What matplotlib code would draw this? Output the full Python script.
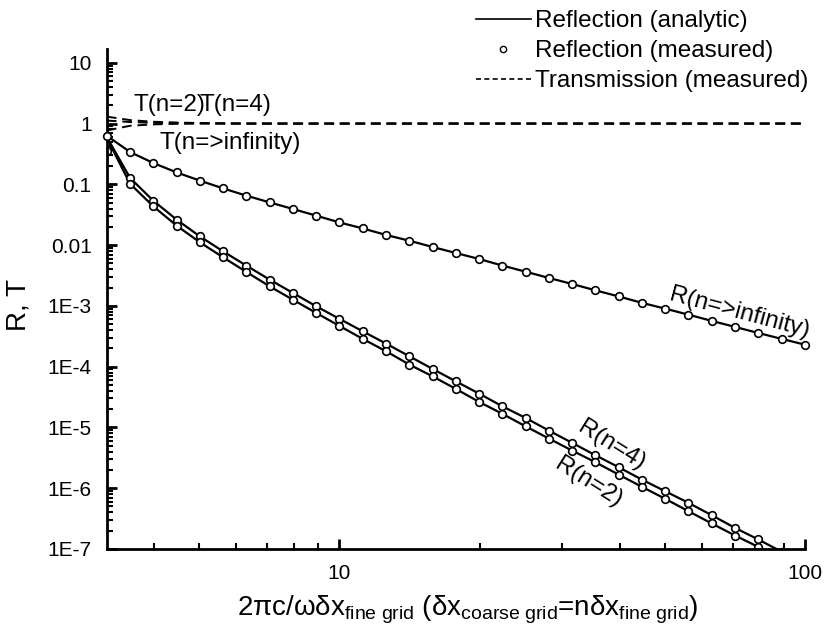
import numpy as np
import matplotlib
matplotlib.use('Agg')
import matplotlib.pyplot as plt
from matplotlib.lines import Line2D
from matplotlib.ticker import FixedLocator, FixedFormatter, LogLocator, NullFormatter

plt.rcParams['font.family'] = ['Liberation Sans', 'DejaVu Sans']
plt.rcParams['mathtext.fontset'] = 'custom'
plt.rcParams['mathtext.rm'] = 'Liberation Sans'
plt.rcParams['mathtext.it'] = 'Liberation Sans'
plt.rcParams['mathtext.bf'] = 'Liberation Sans:bold'

# points per wavelength on the fine grid
ppw = [3.162, 3.548, 3.981, 4.467, 5.012, 5.623, 6.310, 7.079, 7.943, 8.913,
       10.0, 11.22, 12.59, 14.13, 15.85, 17.78, 19.95, 22.39, 25.12, 28.18,
       31.62, 35.48, 39.81, 44.67, 50.12, 56.23, 63.10, 70.79, 79.43, 89.13, 100.0]

# reflection, n -> infinity
r_inf = [0.63, 0.34, 0.224, 0.157, 0.115, 0.0857, 0.0650, 0.0504, 0.0393, 0.0305,
         0.0236, 0.0188, 0.0147, 0.0118, 0.00931, 0.00741, 0.00591, 0.00460, 0.00365, 0.00288,
         0.00229, 0.00180, 0.00143, 0.00112, 0.000899, 0.000716, 0.000565, 0.000450, 0.000358,
         0.000286, 0.000230]

# reflection, n = 4
r4 = [0.38, 0.127, 0.0537, 0.0262, 0.0139, 0.00787, 0.00458, 0.00270, 0.00163, 0.000982,
      0.000611, 0.000381, 0.000239, 0.000148, 9.16e-5, 5.73e-5, 3.60e-5, 2.22e-5, 1.43e-5,
      8.86e-6, 5.56e-6, 3.48e-6, 2.21e-6, 1.38e-6, 8.89e-7, 5.73e-7, 3.58e-7, 2.22e-7,
      1.43e-7, 9.0e-8, 5.6e-8]

# reflection, n = 2
r2 = [0.35, 0.102, 0.0433, 0.0209, 0.0111, 0.00628, 0.00361, 0.00209, 0.00126, 0.000764,
      0.000467, 0.000286, 0.000179, 0.000108, 6.92e-5, 4.30e-5, 2.63e-5, 1.67e-5, 1.04e-5,
      6.55e-6, 4.15e-6, 2.67e-6, 1.67e-6, 1.05e-6, 6.67e-7, 4.17e-7, 2.62e-7, 1.66e-7,
      1.08e-7, 6.8e-8, 4.3e-8]

# analytic curves differ from the measured ones only at the coarsest point
r4_first_analytic = 0.60
r2_first_analytic = 0.58

# transmission
t2 = [1.30, 1.14, 1.07, 1.04, 1.02, 1.01, 1.0, 1.0, 1.0, 1.0, 1.0, 1.0, 1.0, 1.0, 1.0, 1.0,
      1.0, 1.0, 1.0, 1.0, 1.0, 1.0, 1.0, 1.0, 1.0, 1.0, 1.0, 1.0, 1.0, 1.0, 1.0]
t4 = [1.12, 1.06, 1.03, 1.015, 1.01, 1.0, 1.0, 1.0, 1.0, 1.0, 1.0, 1.0, 1.0, 1.0, 1.0, 1.0,
      1.0, 1.0, 1.0, 1.0, 1.0, 1.0, 1.0, 1.0, 1.0, 1.0, 1.0, 1.0, 1.0, 1.0, 1.0]
t_inf = [0.77, 0.92, 0.97, 0.99, 1.0, 1.0, 1.0, 1.0, 1.0, 1.0, 1.0, 1.0, 1.0, 1.0, 1.0, 1.0,
         1.0, 1.0, 1.0, 1.0, 1.0, 1.0, 1.0, 1.0, 1.0, 1.0, 1.0, 1.0, 1.0, 1.0, 1.0]

ytick_vals = [10, 1, 0.1, 0.01, 1e-3, 1e-4, 1e-5, 1e-6, 1e-7]
ytick_labels = ['10', '1', '0.1', '0.01', '1E-3', '1E-4', '1E-5', '1E-6', '1E-7']
xtick_vals = [10, 100]
xtick_labels = ['10', '100']

fig = plt.figure(figsize=(8.28, 6.42), dpi=100)
ax = fig.add_axes([0.129, 0.145, 0.843, 0.779])

ax.set_xscale('log')
ax.set_yscale('log')

# analytic reflection
ax.plot(ppw, r_inf, color='black', lw=1.6)
ax.plot(ppw, [r4_first_analytic] + r4[1:], color='black', lw=1.6)
ax.plot(ppw, [r2_first_analytic] + r2[1:], color='black', lw=1.6)

# measured reflection (the n->infinity curve stays inside the box, so no clipping)
ax.plot(ppw, r_inf, ls='none', marker='o', ms=5.5, mfc='white', mec='black', mew=1.2,
        clip_on=False, zorder=3)
for r in (r4, r2):
    ax.plot(ppw, r, ls='none', marker='o', ms=5.5, mfc='white', mec='black', mew=1.2)

# measured transmission
for t in (t2, t4, t_inf):
    ax.plot(ppw, t, color='black', lw=1.4, ls=(0, (5, 3)))

ax.set_xlim(3.162, 100)
ax.set_ylim(1e-7, 17)

ax.spines['top'].set_visible(False)
ax.spines['right'].set_visible(False)
ax.spines['left'].set_linewidth(2)
ax.spines['bottom'].set_linewidth(2)

ax.yaxis.set_major_locator(FixedLocator(ytick_vals))
ax.yaxis.set_major_formatter(FixedFormatter(ytick_labels))
ax.yaxis.set_minor_locator(LogLocator(base=10, subs=np.arange(2, 10), numticks=20))
ax.yaxis.set_minor_formatter(NullFormatter())
ax.xaxis.set_major_locator(FixedLocator(xtick_vals))
ax.xaxis.set_major_formatter(FixedFormatter(xtick_labels))
ax.xaxis.set_minor_locator(LogLocator(base=10, subs=np.arange(2, 10), numticks=20))
ax.xaxis.set_minor_formatter(NullFormatter())

ax.tick_params(which='major', direction='in', length=7, width=2, labelsize=15, pad=11)
ax.tick_params(which='minor', direction='in', length=4, width=1.5)

# curve labels
ax.text(3.61, 2.04, 'T(n=2)', fontsize=17.5, ha='left', va='center')
ax.text(5.01, 2.04, 'T(n=4)', fontsize=17.5, ha='left', va='center')
ax.text(4.11, 0.483, 'T(n=>infinity)', fontsize=17.5, ha='left', va='center')
ax.text(72.5, 7.7e-4, 'R(n=>infinity)', fontsize=17.5, ha='center', va='center',
        rotation=-15, rotation_mode='anchor')
ax.text(38.4, 5.0e-6, 'R(n=4)', fontsize=17.5, ha='center', va='center',
        rotation=-32, rotation_mode='anchor')
ax.text(34.2, 1.24e-6, 'R(n=2)', fontsize=17.5, ha='center', va='center',
        rotation=-32, rotation_mode='anchor')

fig.text(0.022, 1 - 305 / 642, 'R, T', fontsize=20, rotation=90, ha='center', va='center')
fig.text(468 / 828, 1 - 610 / 642,
         r'2$\pi$c/$\omega\delta$x$_{\rm fine\ grid}$ ($\delta$x$_{\rm coarse\ grid}$=n$\delta$x$_{\rm fine\ grid}$)',
         fontsize=20, ha='center', va='center')

handles = [Line2D([], [], color='black', lw=1.2),
           Line2D([], [], ls='none', marker='o', ms=4.5, mfc='white', mec='black'),
           Line2D([], [], color='black', lw=1.2, ls=(0, (3, 2)))]
labels = ['Reflection (analytic)', 'Reflection (measured)', 'Transmission (measured)']
ax.legend(handles, labels, loc='upper right', bbox_to_anchor=(0.994, 1.007),
          bbox_transform=fig.transFigure, frameon=False, fontsize=17.5,
          handlelength=2.3, handletextpad=0.15, labelspacing=0.33, borderaxespad=0.2)

fig.savefig('out.png', dpi=100)
